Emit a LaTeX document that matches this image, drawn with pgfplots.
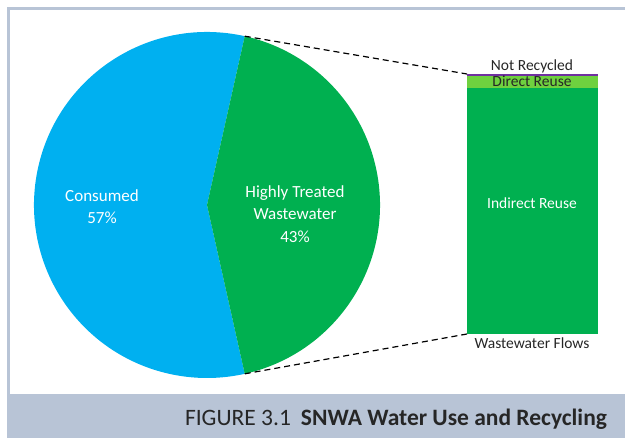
\documentclass[border=0pt]{standalone}
\usepackage{pgfplots}
\pgfplotsset{compat=1.18}
\usepackage{pgfplotstable}
\usepackage{fontspec}
\setmainfont{Carlito}
\definecolor{cblue}{HTML}{00B0F0}
\definecolor{cgreen}{HTML}{00B050}
\definecolor{clgreen}{HTML}{6FD13F}
\definecolor{cpurple}{HTML}{7030A0}
\definecolor{frame}{HTML}{B8C4D6}
\definecolor{captxt}{HTML}{262626}
% pie shares (percent)
\def\consumed{57}
\def\treated{43}
\pgfplotstableread{
x indirect direct notrec
0 94.6 4.6 0.8
}\flows
\begin{document}
\begin{tikzpicture}
\useasboundingbox (0,0) rectangle (625bp,438bp);
% frame
\fill[frame] (7bp,0) rectangle (625bp,44bp);
\fill[frame] (7bp,44bp) rectangle (10bp,431bp);
\fill[frame] (7bp,428bp) rectangle (625bp,431bp);
\begin{axis}[at={(0,0)},anchor=south west,scale only axis,
  x=1bp,y=1bp,xmin=0,xmax=625,ymin=0,ymax=438,hide axis,clip=false]
\pgfmathsetmacro{\ha}{\treated*3.6/2}
\fill[cblue] (axis cs:207,233) -- +(\ha:173bp) arc[start angle=\ha,end angle=360-\ha,radius=173bp] -- cycle;
\fill[cgreen] (axis cs:207,233) -- +(-\ha:173bp) arc[start angle=-\ha,end angle=\ha,radius=173bp] -- cycle;
\draw[black,line width=1.2bp,dash pattern=on 6bp off 4bp] (axis cs:207,233) ++(\ha:173bp) -- (axis cs:467,364);
\draw[black,line width=1.2bp,dash pattern=on 6bp off 4bp] (axis cs:207,233) ++(-\ha:173bp) -- (axis cs:467,104);
\node[white,font=\fontsize{17bp}{22bp}\selectfont,align=center] at (axis cs:102,231) {Consumed\\\consumed\%};
\node[white,font=\fontsize{17bp}{22.5bp}\selectfont,align=center] at (axis cs:295,224) {Highly Treated\\Wastewater\\\treated\%};
\node[font=\fontsize{15.5bp}{16bp}\selectfont,black!85] at (axis cs:532,95) {Wastewater Flows};
\node[font=\fontsize{23.5bp}{26bp}\selectfont,captxt] at (axis cs:396,19) {FIGURE 3.1\hspace{10bp}\textbf{SNWA Water Use and Recycling}};
\end{axis}
\begin{axis}[at={(467bp,104bp)},anchor=south west,scale only axis,
  width=131bp,height=260bp,xmin=-0.5,xmax=0.5,ymin=0,ymax=100,
  hide axis,ybar stacked,bar width=131bp,enlargelimits=false,clip=false]
\addplot[fill=cgreen,draw=none] table[x=x,y=indirect] {\flows};
\addplot[fill=clgreen,draw=none] table[x=x,y=direct] {\flows};
\addplot[fill=cpurple,draw=none] table[x=x,y=notrec] {\flows};
\end{axis}
\node[white,font=\fontsize{15.5bp}{16bp}\selectfont] at (532bp,235bp) {Indirect Reuse};
\node[font=\fontsize{15.5bp}{16bp}\selectfont,black!85] at (532bp,372bp) {Not Recycled};
\node[font=\fontsize{15.5bp}{16bp}\selectfont,black!85] at (532bp,357bp) {Direct Reuse};
\end{tikzpicture}
\end{document}
